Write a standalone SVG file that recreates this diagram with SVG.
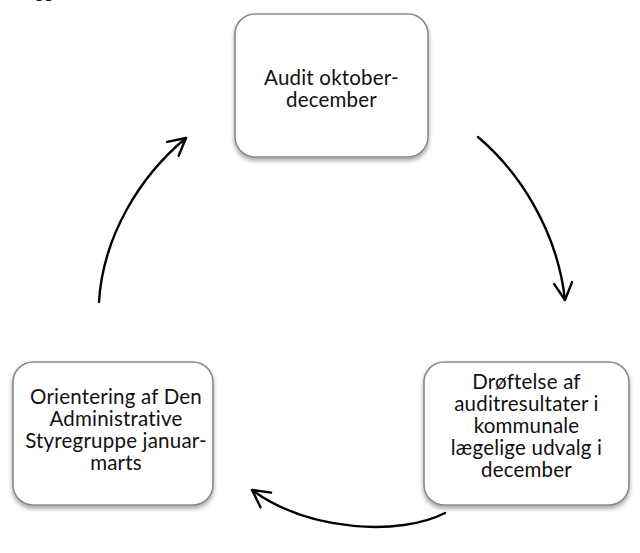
<svg xmlns="http://www.w3.org/2000/svg" width="640" height="553" viewBox="0 0 640 553">
  <style>
    .box { fill: #ffffff; stroke: #8a8a8a; stroke-width: 1.6; filter: url(#shadow); }
    .label { font-family: Lato, "Open Sans", "Liberation Sans", sans-serif; font-size: 20.5px; letter-spacing: 0.2px; fill: #111111; text-anchor: middle; }
    .arc { fill: none; stroke: #000000; stroke-width: 2.4; stroke-linecap: round; marker-end: url(#chevron); }
  </style>
  <defs>
    <filter id="shadow" x="-10%" y="-10%" width="120%" height="125%">
      <feDropShadow dx="0" dy="3" stdDeviation="2.2" flood-color="#000000" flood-opacity="0.35"/>
    </filter>
    <marker id="chevron" viewBox="0 0 22 22" refX="20" refY="11" markerWidth="22" markerHeight="22" markerUnits="userSpaceOnUse" orient="auto">
      <path d="M3,2 L20,11 L3,20" fill="none" stroke="#000000" stroke-width="2.4" stroke-linecap="round" stroke-linejoin="round"/>
    </marker>
  </defs>

  <rect width="640" height="553" fill="#ffffff"/>

  <!-- clipped descenders of a heading above the frame -->
  <text class="label" x="44" y="-2" style="font-size:18px">gg</text>

  <g id="node-audit">
    <rect class="box" x="235" y="14" width="193" height="143" rx="20" ry="20"/>
    <text class="label" x="331.5" y="85">Audit oktober-</text>
    <text class="label" x="331.5" y="107">december</text>
  </g>

  <g id="node-droeftelse">
    <rect class="box" x="424" y="362" width="205" height="143" rx="20" ry="20"/>
    <text class="label" x="526.5" y="389">Drøftelse af</text>
    <text class="label" x="526.5" y="411">auditresultater i</text>
    <text class="label" x="526.5" y="433">kommunale</text>
    <text class="label" x="526.5" y="455">lægelige udvalg i</text>
    <text class="label" x="526.5" y="477">december</text>
  </g>

  <g id="node-orientering">
    <rect class="box" x="13" y="362" width="200" height="143" rx="20" ry="20"/>
    <text class="label" x="116" y="404">Orientering af Den</text>
    <text class="label" x="116" y="426">Administrative</text>
    <text class="label" x="116" y="448">Styregruppe januar-</text>
    <text class="label" x="116" y="470">marts</text>
  </g>

  <g id="connectors">
    <path class="arc" d="M478,137 C517,170 557,228 565,300"/>
    <path class="arc" d="M445,513 C400,536 310,532 252,490"/>
    <path class="arc" d="M99,302 C103,236 140,176 186,138"/>
  </g>
</svg>
